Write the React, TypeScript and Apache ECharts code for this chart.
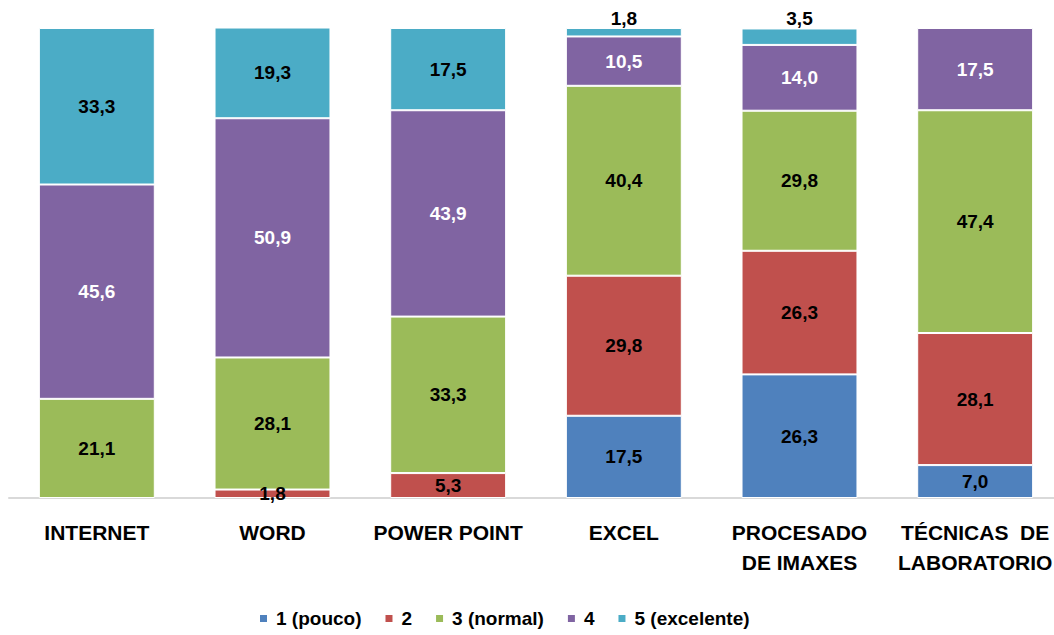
import React, { useEffect, useRef } from "react";
import * as echarts from "echarts";

const categories = [
  "INTERNET",
  "WORD",
  "POWER POINT",
  "EXCEL",
  "PROCESADO\nDE IMAXES",
  "TÉCNICAS  DE\nLABORATORIO",
];
const seriesNames = ["1 (pouco)", "2", "3 (normal)", "4", "5 (excelente)"];
const s1: (number | null)[] = [null, null, null, 17.5, 26.3, 7.0];
const s2: (number | null)[] = [null, 1.8, 5.3, 29.8, 26.3, 28.1];
const s3: (number | null)[] = [21.1, 28.1, 33.3, 40.4, 29.8, 47.4];
const s4: (number | null)[] = [45.6, 50.9, 43.9, 10.5, 14.0, 17.5];
const s5: (number | null)[] = [33.3, 19.3, 17.5, 1.8, 3.5, null];
const colors = ["#4F81BD", "#C0504D", "#9BBB59", "#8064A2", "#4BACC6"];
const labelColors = ["#000", "#000", "#000", "#fff", "#000"];

const FONT = "'Liberation Sans', Arial, sans-serif";

export default function App() {
  const ref = useRef<HTMLDivElement>(null);
  useEffect(() => {
    if (!ref.current) return;
    const chart = echarts.init(ref.current, undefined, { renderer: "svg" });
    const all = [s1, s2, s3, s4, s5];
    const series = all.map((vals, si) => ({
      name: seriesNames[si],
      type: "bar",
      stack: "total",
      barCategoryGap: "34%",
      itemStyle: { color: colors[si], borderColor: "#fff", borderWidth: 1 },
      label: {
        show: true,
        position: "inside",
        color: labelColors[si],
        fontFamily: FONT,
        fontWeight: "bold",
        fontSize: 19,
        formatter: (p: any) => (p.value == null ? "" : Number(p.value).toFixed(1).replace(".", ",")),
      },
      data: vals.map((v) => {
        if (v != null && v < 5 && si === 4) {
          return { value: v, label: { position: "top", distance: 0 } };
        }
        return v;
      }),
    }));
    chart.setOption({
      animation: false,
      color: colors,
      grid: { left: 9, right: 0, top: 28, bottom: 137, containLabel: false },
      legend: {
        left: 253,
        top: 604,
        itemWidth: 9,
        itemHeight: 9,
        itemGap: 22,
        icon: "rect",
        textStyle: {
          fontFamily: FONT,
          fontWeight: "bold",
          fontSize: 19,
          color: "#000",
          padding: [0, 0, 0, 3],
        },
        data: seriesNames,
      },
      xAxis: {
        type: "category",
        data: categories,
        axisLine: { show: true, lineStyle: { color: "#D9D9D9", width: 2 } },
        axisTick: { show: false },
        axisLabel: {
          interval: 0,
          margin: 19,
          color: "#000",
          fontFamily: FONT,
          fontWeight: "bold",
          fontSize: 21,
          lineHeight: 30,
        },
      },
      yAxis: {
        type: "value",
        min: 0,
        max: 100,
        show: false,
        splitLine: { show: false },
      },
      series,
    });
    return () => chart.dispose();
  }, []);
  return (
    <div
      style={{ position: "absolute", left: 0, top: 0, width: 1054, height: 635, overflow: "hidden", background: "#fff" }}
    >
      <div ref={ref} style={{ width: 1063, height: 635 }} />
    </div>
  );
}
